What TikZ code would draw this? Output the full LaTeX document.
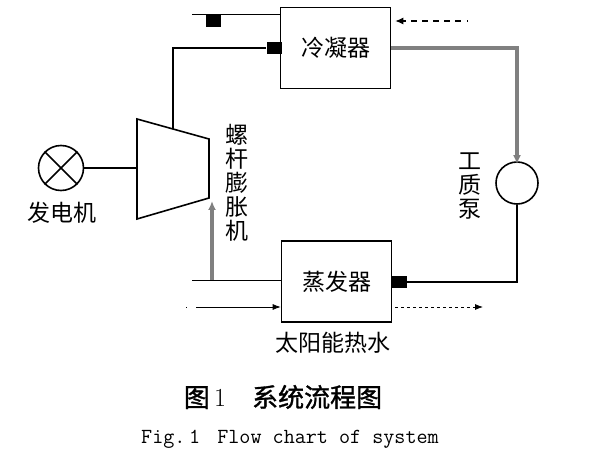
\documentclass[tikz,border=0pt]{standalone}
\usepackage{fontspec}
\usepackage{tikz}
\usetikzlibrary{arrows.meta}
\newfontfamily\cjk{Noto Sans CJK SC}
\newfontfamily\cjkcap[FakeBold=1.2]{Noto Sans CJK SC}

\begin{document}
\begin{tikzpicture}[x=1pt,y=-1pt]
\tikzstyle{every node}+=[inner sep=0pt]
\tikzstyle{unit}=[draw,line width=1.6pt,minimum width=110pt,minimum height=81pt,font=\cjk\fontsize{23}{25}\selectfont]
\tikzstyle{port}=[fill=black,minimum width=15pt,minimum height=12pt]
\tikzstyle{lbl}=[font=\cjk\fontsize{23}{24}\selectfont,align=center]
\tikzstyle{pipe}=[black,line width=1.6pt]
\tikzstyle{vapor}=[gray,line width=3.5pt]
\tikzstyle{water}=[black,line width=0.8pt]
\useasboundingbox (0,0) rectangle (600,473);
% units
\node [unit] (cond) at (335.5,48) {冷凝器};
\node [unit] (evap) at (336.5,281.5) {蒸发器};
\node [port] (cport) at (274,48) {};
\node [port] (eport) at (399.5,282) {};
\node [port] (tport) at (213.5,21) {};
\node [draw,circle,line width=1.6pt,minimum size=45pt] (gen) at (61,168) {};
\node [draw,circle,line width=1.6pt,minimum size=42pt] (pump) at (517,183) {};
\draw [line width=1.6pt] (gen.north west) -- (gen.south east);
\draw [line width=1.6pt] (gen.north east) -- (gen.south west);
% screw expander
\coordinate (t1) at (137,119);
\coordinate (t2) at (209,139);
\coordinate (t3) at (209,198);
\coordinate (t4) at (137,219);
\draw [line width=1.6pt] (t1) -- (t2) -- (t3) -- (t4) -- cycle;
\coordinate (tin) at (137,168);
\coordinate (ttop) at (173,129);
\coordinate (tbot) at (212,201);
% labels
\node [lbl] (genlab) at (62,213) {发电机};
\node [lbl] (explab) at (237,183) {螺\\杆\\膨\\胀\\机};
\node [lbl] (pumplab) at (470,186) {工\\质\\泵};
\node [lbl] (hwlab) at (333,343) {太阳能热水};
% working fluid
\draw [pipe] (gen.east) -- (tin);
\draw [pipe] (ttop) |- (cport.west);
\draw [vapor,-{Latex[length=9pt,width=8pt]}] (cond.east) -| ([yshift=-3pt]pump.north);
\draw [pipe] (pump.south) |- (eport.east);
\coordinate (vin) at (212,280);
\draw [vapor,-{Latex[length=9pt,width=8pt]}] (vin) -- (tbot);
% water lines
\coordinate (cl) at (192,14);
\draw [water] (cl) -- (cl -| cond.west);
\coordinate (el) at (192,280);
\draw [water] (el) -- (el -| evap.west);
\coordinate (cwin) at (468,21);
\draw [water,line width=1.2pt,dash pattern=on 1.5pt off 6pt on 6pt off 5pt on 6pt off 5pt on 6pt off 5pt on 6pt off 5pt on 6pt off 5pt on 30pt,-{Latex[length=8pt,width=7pt]}] (cwin) -- ([xshift=4pt]cwin -| cond.east);
\coordinate (hwin) at (186,307);
\draw [water,dash pattern=on 1pt off 9pt on 200pt,-{Latex[length=8pt,width=6pt]}] (hwin) -- (hwin -| evap.west);
\coordinate (hwout) at (483,307);
\draw [water,dash pattern=on 3pt off 3pt,-{Latex[length=8pt,width=6pt]}] ([xshift=3pt]hwout -| evap.east) -- (hwout);
% caption
\node [font=\fontsize{26}{28}\selectfont] (cap) at (283,397) {{\cjkcap 图}\,1\hspace{1em}{\cjkcap 系统流程图}};
\node [font=\ttfamily\fontsize{21.5}{23}\selectfont] (capen) at (290,439) {Fig.\,1\hspace{0.8em}Flow chart of system};
\end{tikzpicture}
\end{document}
